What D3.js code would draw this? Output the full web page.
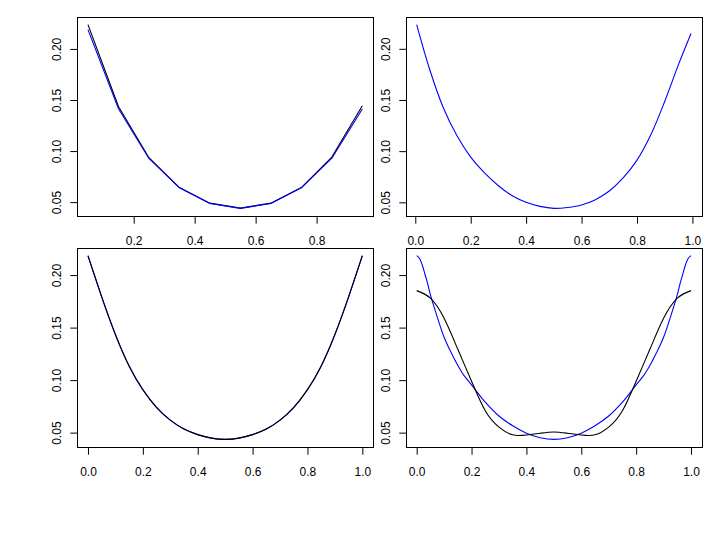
<!DOCTYPE html>
<html>
<head>
<meta charset="utf-8">
<script src="https://cdn.jsdelivr.net/npm/d3@7"></script>
<style>
  html, body { margin: 0; padding: 0; background: #fff; }
  svg text { font-family: "Liberation Sans", Arial, Helvetica, sans-serif; font-size: 12px; fill: #000; }
</style>
</head>
<body>
<svg id="chart" width="720" height="540"></svg>
<script>
// ---------------- DATA ----------------
// Panel 1 (top-left): two polylines at bin centres
const p1X      = [0.05, 0.15, 0.25, 0.35, 0.45, 0.55, 0.65, 0.75, 0.85, 0.95];
const p1Black  = [0.2238, 0.1437, 0.0935, 0.0643, 0.0490, 0.0441, 0.0490, 0.0643, 0.0941, 0.1444];
const p1Blue   = [0.2189, 0.1415, 0.0928, 0.0640, 0.0487, 0.0439, 0.0487, 0.0640, 0.0930, 0.1412];

// Panel 2 (top-right): one smooth blue curve
const p2X      = [0.005, 0.05, 0.10, 0.15, 0.20, 0.25, 0.30, 0.35, 0.40, 0.45, 0.50,
                  0.55, 0.60, 0.65, 0.70, 0.75, 0.80, 0.85, 0.90, 0.95, 0.995];
const p2Blue   = [0.2236, 0.1815, 0.1432, 0.1152, 0.0942, 0.0788, 0.0662, 0.0564, 0.0500, 0.0460, 0.0441,
                  0.0450, 0.0474, 0.0526, 0.0610, 0.0738, 0.0912, 0.1160, 0.1485, 0.1848, 0.2150];

// Panel 3 (bottom-left): blue and black almost identical
const p3X      = [0.00, 0.05, 0.10, 0.15, 0.20, 0.25, 0.30, 0.35, 0.40, 0.45, 0.50,
                  0.55, 0.60, 0.65, 0.70, 0.75, 0.80, 0.85, 0.90, 0.95, 1.00];
const p3Blue   = [0.2183, 0.1790, 0.1432, 0.1133, 0.0908, 0.0739, 0.0619, 0.0534, 0.0481, 0.0448, 0.0436,
                  0.0448, 0.0481, 0.0534, 0.0619, 0.0739, 0.0908, 0.1133, 0.1432, 0.1790, 0.2183];
const p3Black  = [0.2185, 0.1795, 0.1435, 0.1135, 0.0909, 0.0740, 0.0619, 0.0534, 0.0481, 0.0448, 0.0436,
                  0.0448, 0.0481, 0.0534, 0.0619, 0.0740, 0.0909, 0.1135, 0.1435, 0.1795, 0.2185];

// Panel 4 (bottom-right): blue curve and black smooth curve
const p4BlueX  = [0.00, 0.01, 0.02, 0.03, 0.04, 0.05, 0.075, 0.10, 0.125, 0.15, 0.175, 0.20, 0.25, 0.30, 0.35, 0.40, 0.45, 0.50,
                  0.55, 0.60, 0.65, 0.70, 0.75, 0.80, 0.825, 0.85, 0.875, 0.90, 0.925, 0.95, 0.96, 0.97, 0.98, 0.99, 1.00];
const p4Blue   = [0.2185, 0.2160, 0.2098, 0.2010, 0.1919, 0.1813, 0.1600, 0.1408, 0.1265, 0.1140, 0.1035, 0.0955, 0.0790, 0.0658, 0.0565, 0.0495, 0.0452, 0.0436,
                  0.0452, 0.0495, 0.0565, 0.0658, 0.0790, 0.0955, 0.1035, 0.1140, 0.1265, 0.1408, 0.1600, 0.1813, 0.1919, 0.2010, 0.2098, 0.2160, 0.2185];
const p4BlackX = [0.00, 0.05, 0.10, 0.15, 0.20, 0.25, 0.30, 0.35, 0.40, 0.45, 0.50,
                  0.55, 0.60, 0.65, 0.70, 0.75, 0.80, 0.85, 0.90, 0.95, 1.00];
const p4Black  = [0.1852, 0.1780, 0.1588, 0.1293, 0.0990, 0.0708, 0.0552, 0.0479, 0.0478, 0.0494, 0.0506,
                  0.0494, 0.0478, 0.0479, 0.0552, 0.0708, 0.0990, 0.1293, 0.1588, 0.1780, 0.1852];

// Tick values and labels
const xTicksP1   = [0.2, 0.4, 0.6, 0.8];
const xLabelsP1  = ["0.2", "0.4", "0.6", "0.8"];
const xTicksStd  = [0.0, 0.2, 0.4, 0.6, 0.8, 1.0];
const xLabelsStd = ["0.0", "0.2", "0.4", "0.6", "0.8", "1.0"];
const yTicks     = [0.05, 0.10, 0.15, 0.20];
const yLabels    = ["0.05", "0.10", "0.15", "0.20"];

// ---------------- DRAWING ----------------
const svg = d3.select("#chart");

// R-style axis range extension (4% each side)
function rPad(ext) {
  const d = ext[1] - ext[0];
  return [ext[0] - 0.04 * d, ext[1] + 0.04 * d];
}

const smooth = d3.curveCatmullRom.alpha(0.5);

const panels = [
  { box: {L: 77, R: 373.3, T: 17.3, B: 215.7},
    series: [ {x: p1X, y: p1Black, color: "#000000", curve: d3.curveLinear},
              {x: p1X, y: p1Blue,  color: "#0000FF", curve: d3.curveLinear} ],
    xt: xTicksP1, xl: xLabelsP1 },
  { box: {L: 405.7, R: 702, T: 17.3, B: 215.7},
    series: [ {x: p2X, y: p2Blue, color: "#0000FF", curve: smooth} ],
    xt: xTicksStd, xl: xLabelsStd },
  { box: {L: 77, R: 373.3, T: 248.3, B: 446.7},
    series: [ {x: p3X, y: p3Blue,  color: "#0000FF", curve: d3.curveNatural},
              {x: p3X, y: p3Black, color: "#000000", curve: d3.curveNatural} ],
    xt: xTicksStd, xl: xLabelsStd },
  { box: {L: 405.7, R: 702, T: 248.3, B: 446.7},
    series: [ {x: p4BlueX,  y: p4Blue,  color: "#0000FF", curve: smooth},
              {x: p4BlackX, y: p4Black, color: "#000000", curve: d3.curveNatural} ],
    xt: xTicksStd, xl: xLabelsStd }
];

panels.forEach(p => {
  const b = p.box;
  const allX = p.series.flatMap(s => s.x);
  const allY = p.series.flatMap(s => s.y);
  const x = d3.scaleLinear().domain(rPad(d3.extent(allX))).range([b.L, b.R]);
  const y = d3.scaleLinear().domain(rPad(d3.extent(allY))).range([b.B, b.T]);

  const g = svg.append("g");

  // x axis (side 1)
  const xAxis = d3.axisBottom(x).tickValues(p.xt)
    .tickFormat((d, i) => p.xl[i]).tickSize(7.2).tickPadding(0);
  const gx = g.append("g").attr("transform", `translate(0,${Math.round(b.B) + 0.5})`).call(xAxis);
  gx.attr("font-size", null).attr("font-family", null);
  gx.select(".domain").remove();
  gx.selectAll(".tick line").attr("stroke", "#000").attr("stroke-width", 1);
  gx.selectAll(".tick text").attr("y", 28.3).attr("dy", null)
    .style("font-family", '"Liberation Sans", Arial, sans-serif').style("font-size", "12px").attr("fill", "#000");

  // y axis (side 2)
  const yAxis = d3.axisLeft(y).tickValues(yTicks)
    .tickFormat((d, i) => yLabels[i]).tickSize(7.2).tickPadding(0);
  const gy = g.append("g").attr("transform", `translate(${Math.round(b.L) + 0.5},0)`).call(yAxis);
  gy.attr("font-size", null).attr("font-family", null);
  gy.select(".domain").remove();
  gy.selectAll(".tick line").attr("stroke", "#000").attr("stroke-width", 1);
  gy.selectAll(".tick text")
    .attr("x", null).attr("dy", null)
    .attr("text-anchor", "middle")
    .attr("transform", "translate(-17,0) rotate(-90)")
    .style("font-family", '"Liberation Sans", Arial, sans-serif').style("font-size", "12px").attr("fill", "#000");

  // data lines
  p.series.forEach(s => {
    const pts = s.x.map((xv, i) => [xv, s.y[i]]);
    g.append("path")
      .attr("d", d3.line().x(d => x(d[0])).y(d => y(d[1])).curve(s.curve)(pts))
      .attr("fill", "none").attr("stroke", s.color).attr("stroke-width", 1.1)
      .attr("stroke-linejoin", "round");
  });

  // box
  g.append("rect")
    .attr("x", Math.round(b.L) + 0.5).attr("y", Math.round(b.T) + 0.5)
    .attr("width", Math.round(b.R) - Math.round(b.L)).attr("height", Math.round(b.B) - Math.round(b.T))
    .attr("fill", "none").attr("stroke", "#000").attr("stroke-width", 1);
});
</script>
</body>
</html>
